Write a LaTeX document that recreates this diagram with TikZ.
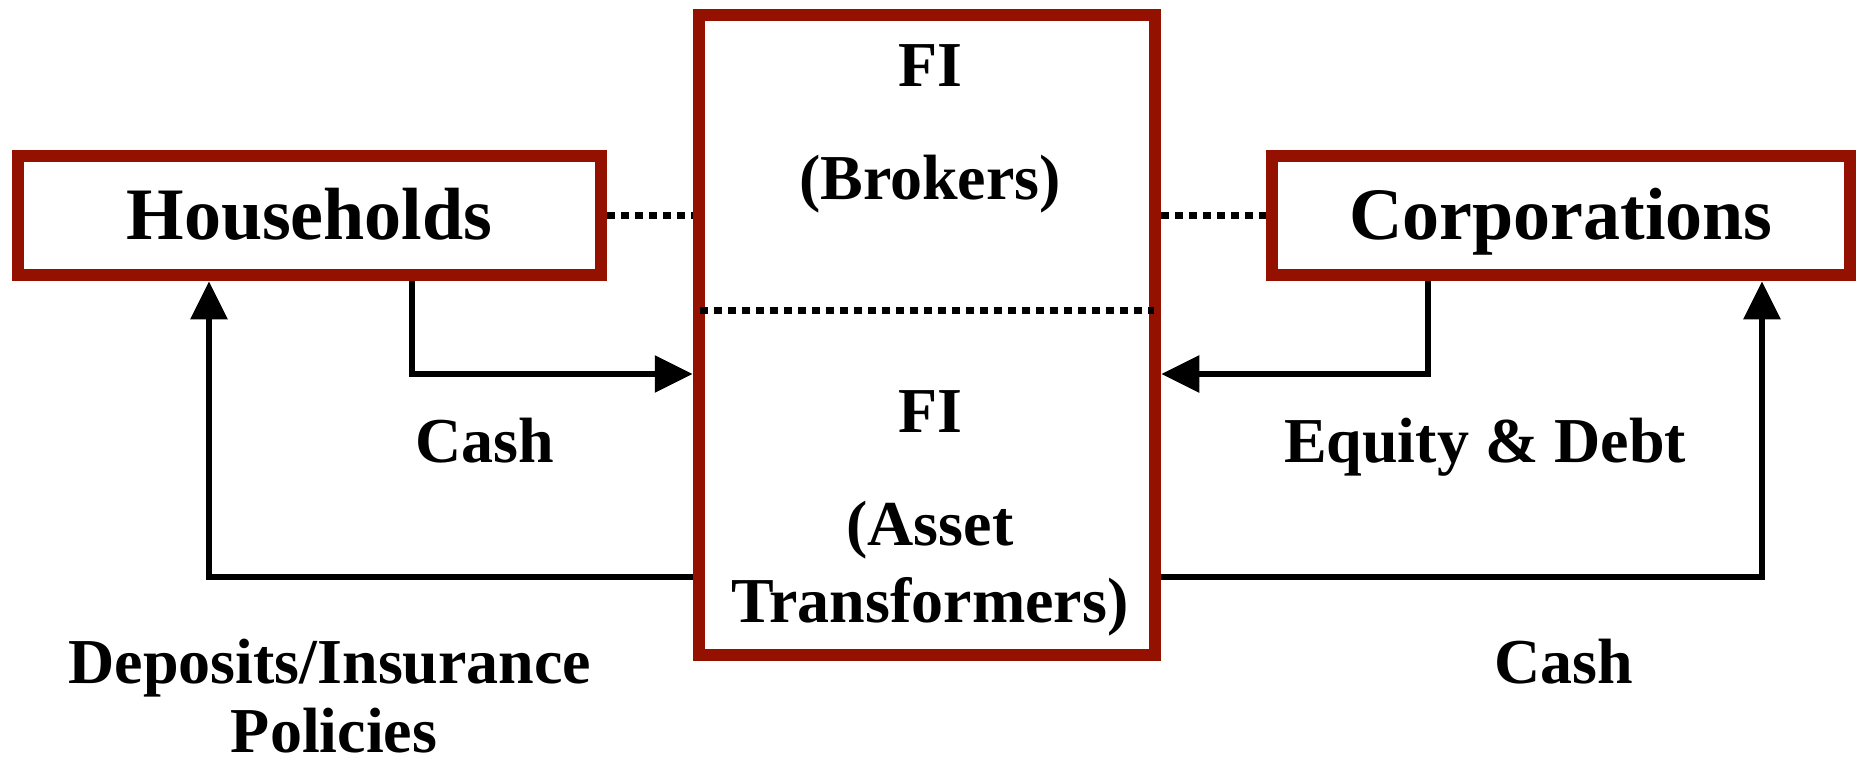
\documentclass[tikz,border=0pt]{standalone}
\usepackage{fontspec}
\setmainfont{Liberation Serif}
\usetikzlibrary{arrows.meta}

\definecolor{boxred}{RGB}{148,17,0}

\tikzset{
  agent/.style={draw=boxred, line width=12.5pt, inner sep=0pt,
    font=\fontsize{74}{88}\selectfont\bfseries, text height=67.5pt, text depth=18.5pt},
  lbl/.style={anchor=base, inner sep=0pt, font=\fontsize{64}{77}\selectfont\bfseries},
  flow/.style={line width=6pt, -{Triangle[length=38pt,width=36pt]}},
  link/.style={line width=7pt, dash pattern=on 8pt off 6pt},
}

\begin{document}
\begin{tikzpicture}[x=1pt,y=1pt,yscale=-1,xscale=1]
\useasboundingbox (0,0) rectangle (1858,762);

%Shape: Rectangle [households]
    \node[agent, minimum width=583pt, minimum height=119pt] (hh) at (309.5,215.5) {Households};
%Shape: Rectangle [corporations]
    \node[agent, minimum width=578pt, minimum height=119pt] (co) at (1561,215.5) {Corporations};
%Shape: Rectangle [financial institution]
    \node[agent, minimum width=456pt, minimum height=639.5pt] (fi) at (927,335) {};

% Text Node
    \node[lbl] (brkfi) at (930,87) {FI};
    \node[lbl] (brk) at (930,200) {(Brokers)};
    \node[lbl] (atfi) at (930,432) {FI};
    \node[lbl] (atone) at (930,545) {(Asset};
    \node[lbl] (attwo) at (930,622) {Transformers)};

% Text Node
    \node[lbl] (hhcash) at (485,462) {Cash};
    \node[lbl] (coclaim) at (1485,462) {Equity \& Debt};
    \node[lbl] (hhclaim) at (330,683) {Deposits/Insurance};
    \node[lbl] (hhclaimb) at (334,752) {Policies};
    \node[lbl] (cocash) at (1564,683) {Cash};

%bend points
    \coordinate (hhin) at (412,374);
    \coordinate (coin) at (1428,374);
    \coordinate (hhout) at (209,577);
    \coordinate (coout) at (1762,577);

%Straight Lines [dotted]
    \draw[link] (hh.east) -- (fi.west |- hh.east);
    \draw[link] (fi.east |- co.west) -- (co.west);
    \draw[link] ([xshift=7pt]fi.west |- 0,310) -- ([xshift=-7pt]fi.east |- 0,310);

%Straight Lines [arrows]
    \draw[flow] (hh.south -| hhin) |- (fi.west |- hhin);
    \draw[flow] (co.south -| coin) |- (fi.east |- coin);
    \draw[flow] (fi.west |- hhout) -| (hh.south -| hhout);
    \draw[flow] (fi.east |- coout) -| (co.south -| coout);

\end{tikzpicture}
\end{document}
